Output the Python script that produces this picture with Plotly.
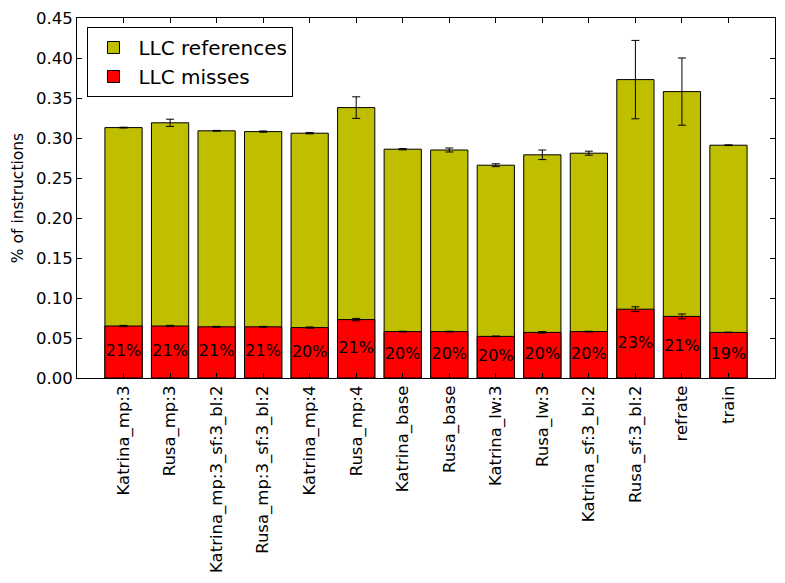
import plotly.graph_objects as go

categories = ["Katrina_mp:3", "Rusa_mp:3", "Katrina_mp:3_sf:3_bl:2", "Rusa_mp:3_sf:3_bl:2",
              "Katrina_mp:4", "Rusa_mp:4", "Katrina_base", "Rusa_base", "Katrina_lw:3",
              "Rusa_lw:3", "Katrina_sf:3_bl:2", "Rusa_sf:3_bl:2", "refrate", "train"]
llc_refs = [0.313, 0.319, 0.309, 0.308, 0.306, 0.338, 0.286, 0.285, 0.266, 0.279, 0.281, 0.373, 0.358, 0.291]
llc_refs_err = [0.0005, 0.0045, 0.0005, 0.0008, 0.0008, 0.0135, 0.0008, 0.0025, 0.0018, 0.006, 0.0025, 0.049, 0.042, 0.0005]
llc_misses = [0.065, 0.065, 0.064, 0.064, 0.063, 0.073, 0.058, 0.058, 0.052, 0.057, 0.058, 0.086, 0.077, 0.057]
llc_misses_err = [0.0008, 0.0008, 0.0005, 0.0005, 0.0008, 0.0015, 0.0005, 0.0005, 0.0005, 0.001, 0.0005, 0.003, 0.003, 0.0003]
pct_labels = ["21%", "21%", "21%", "21%", "20%", "21%", "20%", "20%", "20%", "20%", "20%", "23%", "21%", "19%"]

xs = list(range(len(categories)))
font = "DejaVu Sans"

fig = go.Figure()
fig.add_trace(go.Bar(
    x=xs, y=llc_refs, name="LLC references", width=0.8,
    marker=dict(color="#bfbf00", line=dict(color="black", width=1)),
    error_y=dict(type="data", array=llc_refs_err, color="black", thickness=1, width=4),
))
fig.add_trace(go.Bar(
    x=xs, y=llc_misses, name="LLC misses", width=0.8,
    marker=dict(color="#ff0000", line=dict(color="black", width=1)),
    error_y=dict(type="data", array=llc_misses_err, color="black", thickness=1, width=4),
))
fig.add_trace(go.Scatter(
    x=xs, y=[m / 2 for m in llc_misses], mode="text", text=pct_labels,
    textfont=dict(family=font, size=16, color="black"), showlegend=False, hoverinfo="skip",
))

fig.update_layout(
    width=785, height=583, barmode="overlay",
    margin=dict(l=77, r=10, t=18, b=205),
    paper_bgcolor="white", plot_bgcolor="white",
    font=dict(family=font, size=15, color="black"),
    legend=dict(x=0.015, y=0.975, xanchor="left", yanchor="top",
                bordercolor="black", borderwidth=1, bgcolor="white",
                font=dict(size=20), traceorder="normal",
                itemwidth=40, tracegroupgap=2),
    showlegend=True,
)
fig.update_xaxes(
    range=[-1, 14], tickmode="array", tickvals=xs, ticktext=categories, tickangle=-90,
    showline=True, linecolor="black", linewidth=1, mirror="allticks",
    ticks="inside", ticklen=5, tickcolor="black", showgrid=False, zeroline=False,
    tickfont=dict(size=16.5),
)
fig.update_yaxes(
    range=[0, 0.45], tickmode="linear", tick0=0, dtick=0.05, tickformat=".2f",
    showline=True, linecolor="black", linewidth=1, mirror="allticks",
    ticks="inside", ticklen=5, tickcolor="black", showgrid=False, zeroline=False,
    title=dict(text="% of instructions", font=dict(size=15.5), standoff=8),
    tickfont=dict(size=16.5),
)
fig.write_html("out.html")
